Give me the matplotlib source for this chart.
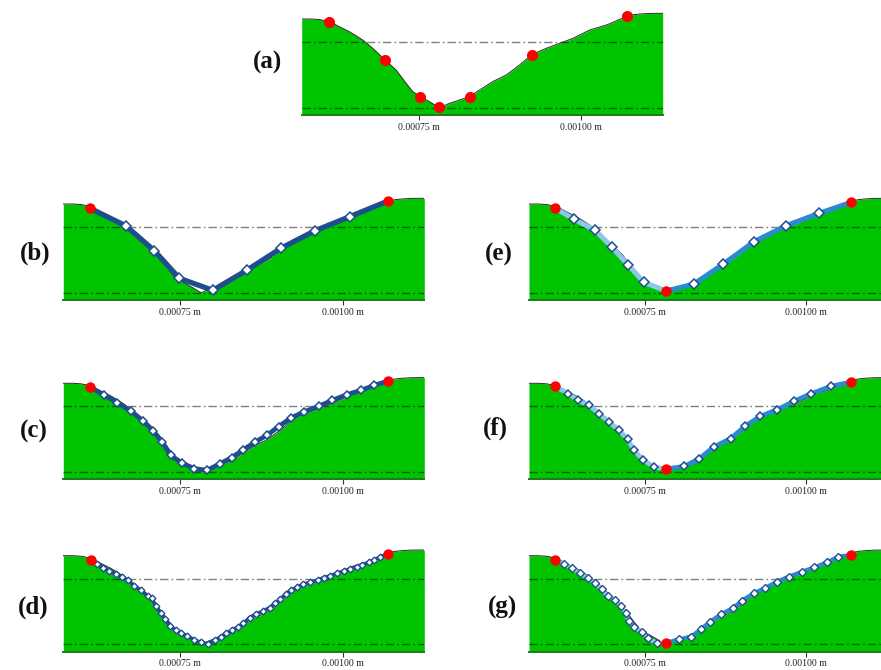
import matplotlib
matplotlib.use("Agg")
import matplotlib.pyplot as plt

# ---------------- data (x in micrometres, h = surface height, arbitrary units) ----
profile_x = [570, 585, 597, 605, 612.4, 620, 627.8, 635, 643.2, 653, 663.8, 679.2, 698.2,
             715.1, 730.5, 740.8, 752.6, 766.4, 781.8, 797.2, 812.6, 828, 843.4, 864,
             884.5, 905, 924, 946, 966.6, 987.1, 1012.8, 1038.5, 1055, 1070.8, 1080,
             1089.8, 1105, 1125]
profile_h = [96, 96, 95.5, 94.5, 93, 91, 88.3, 86, 83.3, 79.5, 75, 66.7, 55,
             45, 31.7, 23.3, 18.3, 13.3, 7.2, 11.7, 15, 18.3, 25, 33.5,
             40, 50, 60.5, 66.7, 71.7, 76.7, 85, 90, 94.5, 99, 100.3,
             101, 101.6, 101.7]

upper_level = 73.0
lower_level = 7.5

a_dots_x = [612.4, 698.2, 752.6, 781.8, 828, 924, 1070.8]
a_dots_h = [93, 55, 18.3, 7.7, 18.3, 60, 99]

b_x = [611, 665.8, 710, 748.5, 799.8, 852.7, 904.5, 956.9, 1010.2, 1069.3]
b_h = [91.7, 74.3, 49.3, 21.7, 9.7, 30, 51.7, 69.3, 83.3, 99]

c_x = [610.9, 633, 653, 674, 693, 708.4, 722.3, 735.1, 752.1, 771.6, 791.1, 811.1,
       829, 847, 865, 883, 900.9, 919.9, 939.4, 962.5, 983.5, 1006.1, 1027.7,
       1048.2, 1069.3]
c_h = [92.3, 84, 76.7, 68.3, 58.3, 48.3, 37.3, 24, 16.3, 10.7, 9, 15.7,
       21.7, 29.7, 37.3, 44, 52.7, 61.3, 67.3, 73, 79, 84.7, 89,
       94, 98.3]

d_x = [612, 622.2, 630.5, 640.7, 650.5, 660.7, 669.9, 679.2, 689, 699.8, 706,
       712.6, 719.8, 726.4, 734.1, 742.9, 751.1, 760.8, 771.1, 781.4, 793.1,
       803.4, 812.2, 820.4, 830.1, 839.3, 847, 856.3, 866.6, 876.9, 887.1,
       895.9, 903.6, 911.7, 920, 929.3, 938.5, 949.8, 961, 970.3, 980.6,
       990.9, 1001.1, 1011.4, 1021.7, 1029.4, 1039.5, 1048.3, 1057.6, 1068.8]
d_h = [91.7, 87.7, 83.4, 80.7, 77.4, 74.4, 71.4, 66, 61.7, 56, 53.4,
       45.7, 38.4, 32.7, 25.7, 21.7, 18.4, 15.7, 12, 9.4, 7.7,
       11.7, 15, 18.4, 21.7, 25, 28.4, 34, 37.7, 40.7, 44,
       48.4, 52.4, 57.4, 61.7, 64.4, 67.4, 69.4, 71.7, 74, 76,
       78.4, 80.7, 82.7, 85, 86.7, 89.4, 91.7, 95, 97.7]

e_left_x = [611, 640, 672.1, 698, 723.9, 748.3, 782.5]
e_left_h = [91.7, 80.7, 70, 53.3, 35, 17.7, 9]
e_right_x = [782.5, 825.5, 870.6, 918.8, 968.5, 1019.8, 1069.5]
e_right_h = [9, 16, 35.7, 58.3, 74.3, 86.7, 97.7]

f_left_x = [611, 630.7, 646.2, 662.8, 678.9, 693.9, 708.9, 722.9, 732.8, 746.7, 763.3, 782.5]
f_left_h = [93, 85.7, 79, 74, 65.7, 57.3, 49.7, 40, 29, 19.7, 12.3, 10.3]
f_right_x = [782.5, 811, 834.3, 856.1, 882.5, 905.3, 928.6, 955, 981.4, 1007.9, 1037.9, 1069.5]
f_right_h = [10.3, 13, 20.7, 32.3, 40.7, 53.3, 63, 69.7, 78.3, 85.7, 93, 97.3]

g_left_x = [611, 624.5, 636.9, 648.8, 661.8, 672.1, 682.5, 691.8, 703.2, 712.5, 719.8,
            725, 733.3, 744.7, 755, 769, 782.5]
g_left_h = [91.7, 87.7, 83.4, 78.4, 73.4, 69, 62.4, 56, 51.7, 45.7, 38.4,
            30.7, 25, 19.4, 13.4, 8.4, 9]
g_right_x = [782.5, 803.2, 821.3, 836.9, 850.9, 867.5, 885.6, 900.1, 918.2, 935.3, 954.5,
             972.6, 993.4, 1012.5, 1032.2, 1049.3, 1068.5]
g_right_h = [9, 12.4, 15, 22.7, 30, 37.4, 43.4, 51, 58.4, 63.4, 70,
             75, 80, 84.4, 89.4, 95, 96.7]

tick_values = [750, 1000]
tick_labels = ["0.00075 m", "0.00100 m"]
panel_labels = ["(a)", "(b)", "(c)", "(d)", "(e)", "(f)", "(g)"]

# ---------------- style ----------------
W, H = 881, 670
GREEN = "#00C400"
NAVY = "#1F4E8F"
LIGHT = "#8EC6EC"
MID = "#2B8AD2"
RED = "#FF0000"
SERIF = ["Liberation Serif", "DejaVu Serif"]

fig = plt.figure(figsize=(W / 100, H / 100), dpi=100)


def make_axes(left, bottom, width, height=105):
    ax = fig.add_axes([left / W, 1 - bottom / H, width / W, height / H])
    ax.set_xlim(570, 1125)
    ax.set_ylim(0, 105)
    ax.fill_between(profile_x, 0, profile_h, color=GREEN, lw=0, zorder=1)
    ax.plot(profile_x, profile_h, color="#2a2a2a", lw=0.7, zorder=2)
    for lvl in (upper_level, lower_level):
        ax.axhline(lvl, color="black", alpha=0.5, lw=1.0,
                   dashes=(6, 2.2, 1.2, 2.2), zorder=3)
    for s in ("left", "right", "top"):
        ax.spines[s].set_visible(False)
    ax.spines["bottom"].set_color("#1E7A1E")
    ax.spines["bottom"].set_linewidth(1.4)
    ax.set_yticks([])
    ax.set_xticks(tick_values)
    ax.set_xticklabels(tick_labels, fontfamily=SERIF, fontsize=7, color="#222222")
    ax.tick_params(axis="x", length=3.5, width=0.8, color="#333333", pad=2)
    ax.patch.set_alpha(0)
    return ax


# (a)
ax = make_axes(301.7, 115, 361)
ax.plot(a_dots_x, a_dots_h, "o", color=RED, ms=8, mec="none", zorder=6)


def single_path(ax, xs, hs, lw, ms, mew):
    ax.plot(xs, hs, color=NAVY, lw=lw, solid_joinstyle="round",
            solid_capstyle="round", zorder=4)
    ax.plot(xs[1:-1], hs[1:-1], "D", mfc="white", mec=NAVY, ms=ms, mew=mew, zorder=5)
    ax.plot([xs[0], xs[-1]], [hs[0], hs[-1]], "o", color=RED, ms=7.5, mec="none", zorder=6)


def split_path(ax, lx, lh, rx, rh, lw, ms, mew):
    ax.plot(lx, lh, color=LIGHT, lw=lw, solid_joinstyle="round",
            solid_capstyle="round", zorder=4)
    ax.plot(rx, rh, color=MID, lw=lw, solid_joinstyle="round",
            solid_capstyle="round", zorder=4)
    ax.plot(lx[1:-1], lh[1:-1], "D", mfc="white", mec=NAVY, ms=ms, mew=mew, zorder=5)
    ax.plot(rx[1:-1], rh[1:-1], "D", mfc="white", mec=NAVY, ms=ms, mew=mew, zorder=5)
    ax.plot([lx[0], rx[0], rx[-1]], [lh[0], rh[0], rh[-1]], "o", color=RED,
            ms=7.5, mec="none", zorder=6)


ax = make_axes(63.3, 300, 361)
single_path(ax, b_x, b_h, 3.8, 4.6, 1.1)
ax = make_axes(63.3, 479.3, 361)
single_path(ax, c_x, c_h, 3.4, 4.1, 1.1)
ax = make_axes(63.3, 651.7, 361)
single_path(ax, d_x, d_h, 2.6, 3.4, 1.0)

ax = make_axes(529, 300, 358)
split_path(ax, e_left_x, e_left_h, e_right_x, e_right_h, 3.6, 4.6, 1.1)
ax = make_axes(529, 479.3, 358)
split_path(ax, f_left_x, f_left_h, f_right_x, f_right_h, 3.4, 4.1, 1.1)
ax = make_axes(529, 651.7, 358)
split_path(ax, g_left_x, g_left_h, g_right_x, g_right_h, 3.0, 3.6, 1.0)

label_pos = [(268, 62), (35, 253), (34, 431), (33, 607), (499, 254), (495, 428), (502, 607)]
for lab, (px, py) in zip(panel_labels, label_pos):
    fig.text(px / W, 1 - py / H, lab, ha="center", va="center",
             fontfamily=SERIF, fontweight="bold", fontsize=18, color="#111111")

fig.savefig("out.png", dpi=100)
